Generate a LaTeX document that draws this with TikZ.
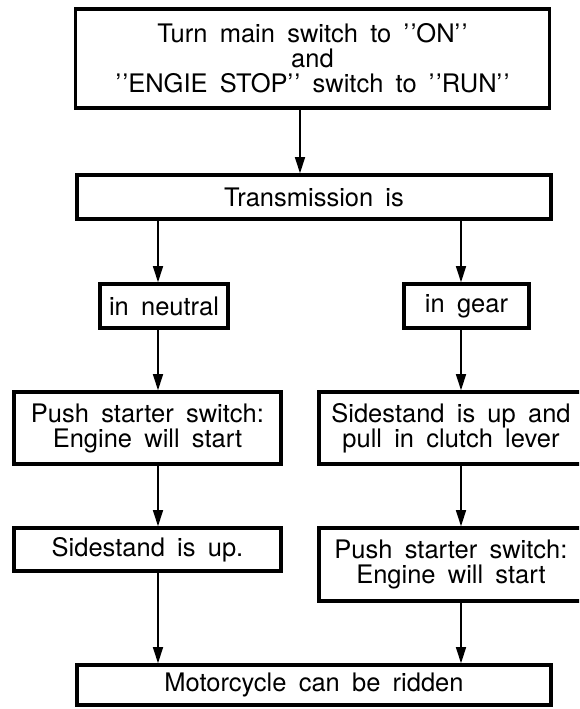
\documentclass[tikz,border=0pt]{standalone}
\usepackage{fontspec}
\setmainfont{TeX Gyre Heros}
\usetikzlibrary{arrows.meta, positioning}
\newcommand\flowfont{\fontsize{25.5}{25}\selectfont\spaceskip=0.48em plus 0.1em\relax}
\newcommand\dq{'\kern1.5pt'}

\begin{document}
\begin{tikzpicture}[
  x=1pt, y=-1pt,
  flowbox/.style={rectangle, draw=black, line width=3.6pt, inner sep=0pt, align=center, font=\flowfont},
  arrow/.style={-{Triangle[length=16pt, width=10pt]}, line width=1.6pt},
]
  \useasboundingbox (0,0) rectangle (579,709);
  \clip (0,0) rectangle (579,709);

  % columns the arrows run down
  \coordinate (colM) at (300,0);
  \coordinate (colL) at (158,0);
  \coordinate (colR) at (461,0);

  \node[flowbox, minimum width=474pt, minimum height=99pt] (mainsw) at (312.5,58.5) {Turn main switch to \dq ON\dq\\and\\\dq ENGIE STOP\dq\ switch to \dq RUN\dq};
  \node[flowbox, minimum width=474pt, minimum height=44pt] (trans) at (314,197) {Transmission is};

  \node[flowbox, minimum width=128pt, minimum height=44pt] (neutral) at (164,306) {in neutral};
  \node[flowbox, minimum width=125pt, minimum height=44pt] (gear) at (466.5,306) {in gear};

  \node[flowbox, minimum width=267pt, minimum height=72pt] (pushL) at (147.5,428) {Push starter switch:\\Engine will start};
  \node[flowbox, minimum width=264pt, minimum height=72pt] (clutch) at (451,428) {Sidestand is up and\\pull in clutch lever};

  \node[flowbox, minimum width=267pt, minimum height=43pt] (sideup) at (147.5,549.5) {Sidestand is up.};
  \node[flowbox, minimum width=264pt, minimum height=73pt] (pushR) at (451,564.5) {Push starter switch:\\Engine will start};

  \node[flowbox, minimum width=474pt, minimum height=40pt] (ridden) at (314,685) {Motorcycle can be ridden};

  \draw[arrow] (mainsw.south -| colM) -- (trans.north -| colM);
  \draw[arrow] (trans.south -| colL) -- (neutral.north -| colL);
  \draw[arrow] (trans.south -| colR) -- (gear.north -| colR);
  \draw[arrow] (neutral.south -| colL) -- (pushL.north -| colL);
  \draw[arrow] (gear.south -| colR) -- (clutch.north -| colR);
  \draw[arrow] (pushL.south -| colL) -- (sideup.north -| colL);
  \draw[arrow] (clutch.south -| colR) -- (pushR.north -| colR);
  \draw[arrow] (sideup.south -| colL) -- (ridden.north -| colL);
  \draw[arrow] (pushR.south -| colR) -- (ridden.north -| colR);

\end{tikzpicture}
\end{document}
